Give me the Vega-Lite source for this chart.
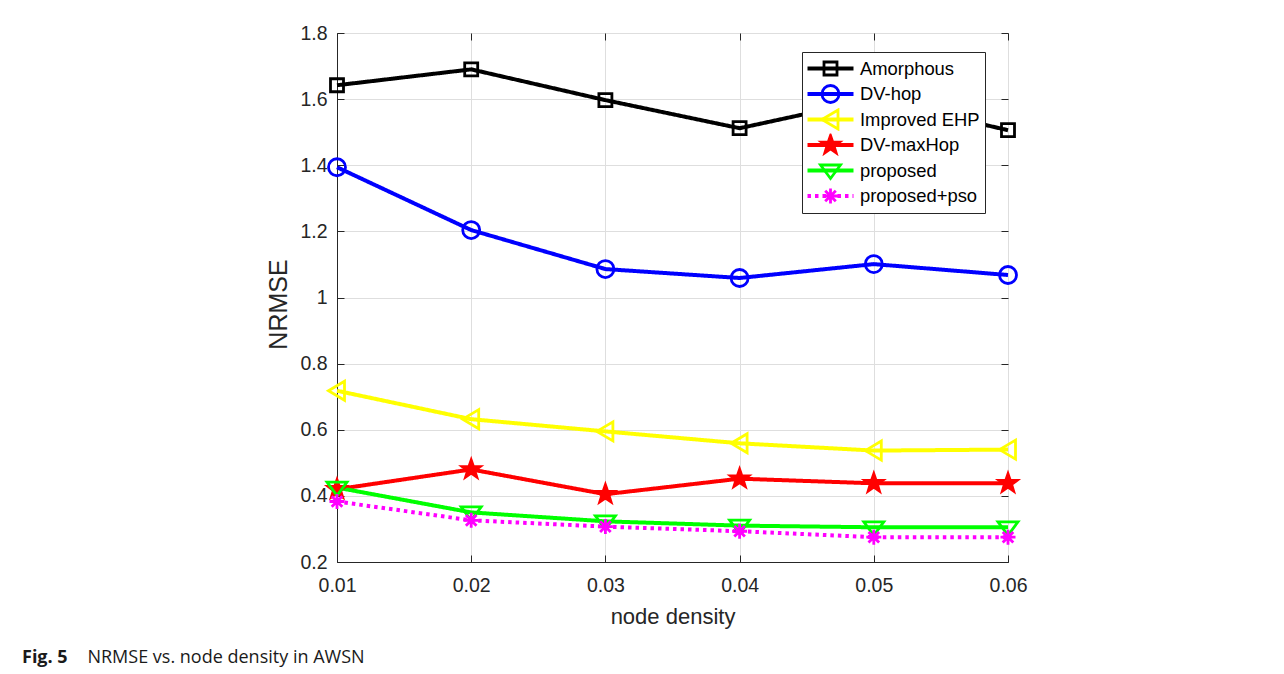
{
  "$schema": "https://vega.github.io/schema/vega-lite/v6.json",
  "width": 671,
  "height": 529,
  "autosize": {"type": "none"},
  "padding": {"left": 337, "top": 33, "right": 276, "bottom": 112},
  "background": "white",
  "config": {
    "view": {"stroke": "#262626", "strokeWidth": 1},
    "font": "Liberation Sans"
  },
  "title": {
    "text": "Fig. 5",
    "subtitle": "\u200b\u00a0\u00a0\u00a0\u00a0\u00a0\u00a0\u00a0\u00a0\u00a0\u00a0\u00a0\u00a0\u00a0\u00a0NRMSE vs. node density in AWSN",
    "orient": "bottom",
    "anchor": "start",
    "frame": "group",
    "dx": -315,
    "offset": 21,
    "font": "Open Sans",
    "fontSize": 18,
    "fontWeight": "bold",
    "color": "#1a1a1a",
    "subtitleFont": "Open Sans",
    "subtitleFontSize": 18,
    "subtitleFontWeight": "normal",
    "subtitleColor": "#1a1a1a",
    "subtitlePadding": -18
  },
  "data": {
    "values": [
      {"x": 0.01, "series": "Amorphous", "y": 1.642},
      {"x": 0.02, "series": "Amorphous", "y": 1.69},
      {"x": 0.03, "series": "Amorphous", "y": 1.597},
      {"x": 0.04, "series": "Amorphous", "y": 1.512},
      {"x": 0.05, "series": "Amorphous", "y": 1.6},
      {"x": 0.06, "series": "Amorphous", "y": 1.506},
      {"x": 0.01, "series": "DV-hop", "y": 1.394},
      {"x": 0.02, "series": "DV-hop", "y": 1.204},
      {"x": 0.03, "series": "DV-hop", "y": 1.086},
      {"x": 0.04, "series": "DV-hop", "y": 1.059},
      {"x": 0.05, "series": "DV-hop", "y": 1.101},
      {"x": 0.06, "series": "DV-hop", "y": 1.068},
      {"x": 0.01, "series": "Improved EHP", "y": 0.718},
      {"x": 0.02, "series": "Improved EHP", "y": 0.632},
      {"x": 0.03, "series": "Improved EHP", "y": 0.595},
      {"x": 0.04, "series": "Improved EHP", "y": 0.559},
      {"x": 0.05, "series": "Improved EHP", "y": 0.537},
      {"x": 0.06, "series": "Improved EHP", "y": 0.54},
      {"x": 0.01, "series": "DV-maxHop", "y": 0.42},
      {"x": 0.02, "series": "DV-maxHop", "y": 0.48},
      {"x": 0.03, "series": "DV-maxHop", "y": 0.405},
      {"x": 0.04, "series": "DV-maxHop", "y": 0.452},
      {"x": 0.05, "series": "DV-maxHop", "y": 0.438},
      {"x": 0.06, "series": "DV-maxHop", "y": 0.438},
      {"x": 0.01, "series": "proposed", "y": 0.425},
      {"x": 0.02, "series": "proposed", "y": 0.35},
      {"x": 0.03, "series": "proposed", "y": 0.323},
      {"x": 0.04, "series": "proposed", "y": 0.31},
      {"x": 0.05, "series": "proposed", "y": 0.305},
      {"x": 0.06, "series": "proposed", "y": 0.305},
      {"x": 0.01, "series": "proposed+pso", "y": 0.383},
      {"x": 0.02, "series": "proposed+pso", "y": 0.326},
      {"x": 0.03, "series": "proposed+pso", "y": 0.307},
      {"x": 0.04, "series": "proposed+pso", "y": 0.293},
      {"x": 0.05, "series": "proposed+pso", "y": 0.275},
      {"x": 0.06, "series": "proposed+pso", "y": 0.275}
    ]
  },
  "layer": [
    {
      "mark": {"type": "line", "strokeWidth": 4, "clip": false},
      "encoding": {
        "x": {
          "field": "x", "type": "quantitative",
          "scale": {"domain": [0.01, 0.06], "nice": false, "zero": false},
          "axis": {
            "orient": "bottom",
            "values": [0.01, 0.02, 0.03, 0.04, 0.05, 0.06],
            "format": ".2f",
            "labelFlush": false,
            "grid": true, "gridColor": "#dedede", "gridWidth": 1,
            "tickSize": -7, "tickColor": "#262626",
            "domainColor": "#262626",
            "labelFontSize": 19.5, "labelColor": "#262626", "labelPadding": 21,
            "labelFont": "Liberation Sans",
            "title": "node density", "titleFontSize": 22, "titleFontWeight": "normal",
            "titleColor": "#262626", "titlePadding": 12, "titleFont": "Liberation Sans"
          }
        },
        "y": {
          "field": "y", "type": "quantitative",
          "scale": {"domain": [0.2, 1.8], "nice": false, "zero": false},
          "axis": {
            "orient": "left",
            "values": [0.2, 0.4, 0.6, 0.8, 1, 1.2, 1.4, 1.6, 1.8],
            "format": "~g",
            "labelFlush": false,
            "grid": true, "gridColor": "#dedede", "gridWidth": 1,
            "tickSize": -7, "tickColor": "#262626",
            "domainColor": "#262626",
            "labelFontSize": 19.5, "labelColor": "#262626", "labelPadding": 17,
            "labelFont": "Liberation Sans",
            "title": "NRMSE", "titleFontSize": 25, "titleFontWeight": "normal",
            "titleColor": "#262626", "titlePadding": 8, "titleFont": "Liberation Sans",
            "titleY": 271
          }
        },
        "color": {
          "field": "series", "type": "nominal",
          "scale": {
            "domain": ["Amorphous", "DV-hop", "Improved EHP", "DV-maxHop", "proposed", "proposed+pso"],
            "range": ["#000000", "#0000ff", "#ffff00", "#ff0000", "#00ff00", "#ff00ff"]
          },
          "legend": {
            "orient": "none", "legendX": 465, "legendY": 19,
            "title": null,
            "strokeColor": "#262626", "fillColor": "white", "padding": 5,
            "symbolType": "stroke",
            "symbolSize": 2116, "symbolStrokeWidth": 4,
            "symbolOffset": -1.5, "labelOffset": 4.5,
            "clipHeight": 23,
            "labelFontSize": 18.4, "labelFont": "Liberation Sans", "labelColor": "#000000",
            "rowPadding": 2.5,
            "encode": {
              "symbols": {
                "update": {
                  "strokeDash": {"signal": "datum.value === 'proposed+pso' ? [3.5, 4] : [1, 0]"}
                }
              }
            }
          }
        },
        "strokeDash": {
          "field": "series", "type": "nominal",
          "scale": {
            "domain": ["Amorphous", "DV-hop", "Improved EHP", "DV-maxHop", "proposed", "proposed+pso"],
            "range": [[1, 0], [1, 0], [1, 0], [1, 0], [1, 0], [3.5, 4]]
          },
          "legend": null
        }
      }
    },
    {
      "mark": {"type": "point", "strokeWidth": 2.8, "size": 400, "opacity": 1, "clip": false},
      "encoding": {
        "x": {
          "field": "x", "type": "quantitative",
          "axis": {"orient": "top", "values": [0.01, 0.02, 0.03, 0.04, 0.05, 0.06], "labels": false, "grid": false, "domain": false, "tickSize": -7, "tickColor": "#262626", "title": null}
        },
        "y": {
          "field": "y", "type": "quantitative",
          "axis": {"orient": "right", "values": [0.2, 0.4, 0.6, 0.8, 1, 1.2, 1.4, 1.6, 1.8], "labels": false, "grid": false, "domain": false, "tickSize": -7, "tickColor": "#262626", "title": null}
        },
        "shape": {
          "field": "series", "type": "nominal",
          "scale": {
            "domain": ["proposed+pso", "proposed", "DV-maxHop", "Improved EHP", "DV-hop", "Amorphous"],
            "range": [
              "M-0.75,0L0.75,0M0,-0.75L0,0.75M-0.53,-0.53L0.53,0.53M-0.53,0.53L0.53,-0.53",
              "M-1,-0.55L1,-0.55L0,0.8Z",
              "M0,-0.95L0.223,-0.307L0.903,-0.294L0.361,0.117L0.559,0.769L0,0.38L-0.559,0.769L-0.361,0.117L-0.903,-0.294L-0.223,-0.307Z",
              "M-0.85,0L0.75,-0.95L0.75,0.95Z",
              "M-0.85,0A0.85,0.85 0 1,0 0.85,0A0.85,0.85 0 1,0 -0.85,0Z",
              "M-0.65,-0.65L0.65,-0.65L0.65,0.65L-0.65,0.65Z"
            ]
          },
          "legend": {
            "orient": "none", "legendX": 465, "legendY": 19,
            "title": null,
            "values": ["Amorphous", "DV-hop", "Improved EHP", "DV-maxHop", "proposed", "proposed+pso"],
            "padding": 5,
            "symbolSize": 400, "symbolStrokeWidth": 2.8,
            "symbolOffset": 12,
            "clipHeight": 23,
            "rowPadding": 2.5,
            "labelExpr": "''"
          }
        },
        "stroke": {
          "field": "series", "type": "nominal",
          "scale": {
            "domain": ["proposed+pso", "proposed", "DV-maxHop", "Improved EHP", "DV-hop", "Amorphous"],
            "range": ["#ff00ff", "#00ff00", "#ff0000", "#ffff00", "#0000ff", "#000000"]
          },
          "legend": {
            "orient": "none", "legendX": 465, "legendY": 19,
            "title": null,
            "values": ["Amorphous", "DV-hop", "Improved EHP", "DV-maxHop", "proposed", "proposed+pso"],
            "padding": 5,
            "symbolSize": 400, "symbolStrokeWidth": 2.8,
            "symbolOffset": 12,
            "clipHeight": 23,
            "rowPadding": 2.5,
            "labelExpr": "''"
          }
        },
        "fill": {
          "field": "series", "type": "nominal",
          "scale": {
            "domain": ["proposed+pso", "proposed", "DV-maxHop", "Improved EHP", "DV-hop", "Amorphous"],
            "range": ["transparent", "transparent", "#ff0000", "transparent", "transparent", "transparent"]
          },
          "legend": {
            "orient": "none", "legendX": 465, "legendY": 19,
            "title": null,
            "values": ["Amorphous", "DV-hop", "Improved EHP", "DV-maxHop", "proposed", "proposed+pso"],
            "padding": 5,
            "symbolSize": 400, "symbolStrokeWidth": 2.8,
            "symbolOffset": 12,
            "clipHeight": 23,
            "rowPadding": 2.5,
            "labelExpr": "''"
          }
        }
      }
    }
  ],
  "resolve": {"axis": {"x": "independent", "y": "independent"}}
}
